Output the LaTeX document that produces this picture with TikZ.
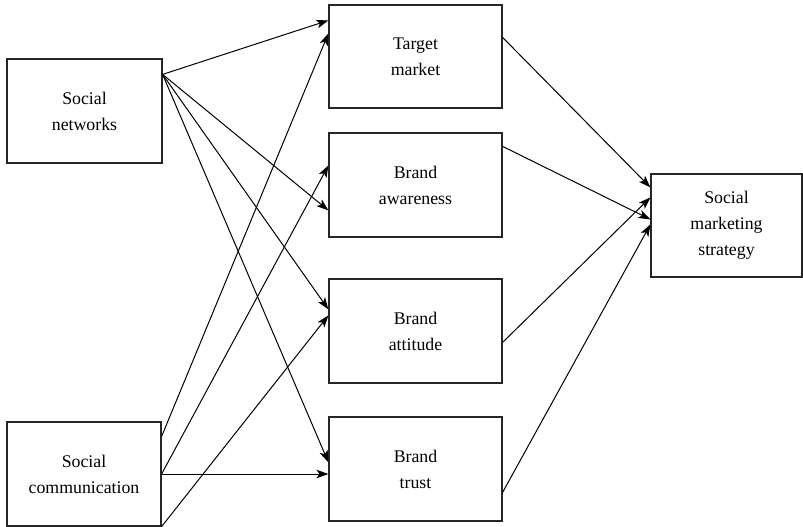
\documentclass[tikz,border=0pt]{standalone}
\usepackage{fontspec}
\setmainfont{Liberation Serif}
\usetikzlibrary{arrows.meta}
\begin{document}
\begin{tikzpicture}[x=1pt,y=-1pt,
  box/.style={draw=black!85,line width=1.2pt,align=center,inner sep=0pt,
    font=\fontsize{17.8}{26}\selectfont},
  link/.style={line width=1pt,-{Stealth[length=12pt,width=8.5pt,inset=3pt]}}]
\useasboundingbox (0,0) rectangle (803,527);

% source constructs
\node[box,minimum width=155pt,minimum height=104pt] (sn) at (84.5,111) {Social\\networks};
\node[box,minimum width=154pt,minimum height=104pt] (sc) at (84,474) {Social\\communication};

% mediating constructs
\node[box,minimum width=173pt,minimum height=103pt] (tm) at (415.5,56.5) {Target\\market};
\node[box,minimum width=173pt,minimum height=104pt] (ba) at (415.5,185) {Brand\\awareness};
\node[box,minimum width=173pt,minimum height=104pt] (at) at (415.5,331) {Brand\\attitude};
\node[box,minimum width=173pt,minimum height=104pt] (bt) at (415.5,469) {Brand\\trust};

% outcome
\node[box,minimum width=151pt,minimum height=103pt] (sms) at (726.5,225.5) {Social\\marketing\\strategy};

% social networks -> mediators
\draw[link] ([yshift=-16pt]sn.north east) -- ([yshift=-16pt]tm.north west);
\draw[link] ([yshift=-16pt]sn.north east) -- ([yshift=-78pt]ba.north west);
\draw[link] ([yshift=-16pt]sn.north east) -- ([yshift=-31pt]at.north west);
\draw[link] ([yshift=-16pt]sn.north east) -- ([yshift=-46pt]bt.north west);

% social communication -> mediators
\draw[link] ([yshift=-15pt]sc.north east) -- ([yshift=-29pt]tm.north west);
\draw[link] (sc.east) -- ([yshift=-33pt]ba.north west);
\draw[link] (sc.south east) -- ([yshift=-37pt]at.north west);
\draw[link] (sc.east) -- (sc.east -| bt.west);

% mediators -> social marketing strategy
\draw[link] ([yshift=-33pt]tm.north east) -- ([yshift=-14pt]sms.north west);
\draw[link] ([yshift=-14pt]ba.north east) -- ([yshift=-46pt]sms.north west);
\draw[link] ([yshift=-64pt]at.north east) -- ([yshift=-24pt]sms.north west);
\draw[link] ([yshift=-76pt]bt.north east) -- ([yshift=-51pt]sms.north west);
\end{tikzpicture}
\end{document}
